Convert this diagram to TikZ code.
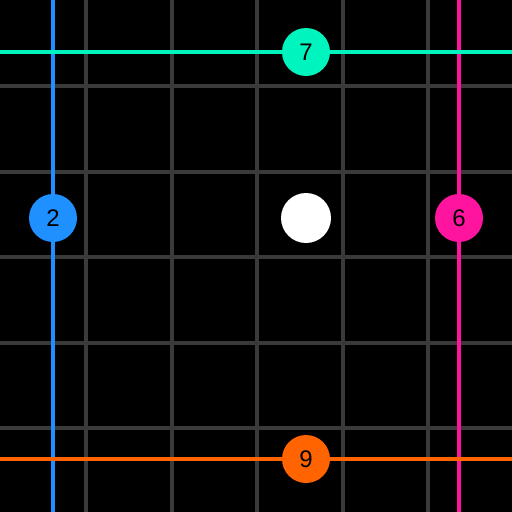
\documentclass[tikz,border=0pt]{standalone}
\usepackage{fontspec}
\setmainfont{Liberation Sans}
\definecolor{gridgray}{RGB}{58,58,58}
\definecolor{ccyan}{RGB}{0,245,190}
\definecolor{cblue}{RGB}{30,144,255}
\definecolor{cmag}{RGB}{255,20,160}
\definecolor{corange}{RGB}{255,100,0}
\tikzset{
  gridline/.style={draw=gridgray, line width=4pt},
  colline/.style={line width=3.5pt},
  dot/.style={circle, minimum size=48pt, inner sep=0pt, font=\fontsize{24}{24}\selectfont, text=black}
}
\begin{document}
\begin{tikzpicture}[x=1pt,y=-1pt]
\fill[black] (0,0) rectangle (512,512);
\useasboundingbox (0,0) rectangle (512,512);
\foreach \p in {86,171.5,257,342.5,428}{
  \draw[gridline] (\p,0) -- (\p,512);
  \draw[gridline] (0,\p) -- (512,\p);
}
\coordinate (cL) at (0,52);   \coordinate (cR) at (512,52);
\coordinate (bT) at (53,0);   \coordinate (bB) at (53,512);
\coordinate (mT) at (459,0);  \coordinate (mB) at (459,512);
\coordinate (oL) at (0,459);  \coordinate (oR) at (512,459);
\draw[colline, cblue] (bT) -- (bB);
\draw[colline, cmag] (mT) -- (mB);
\draw[colline, ccyan] (cL) -- (cR);
\draw[colline, corange] (oL) -- (oR);
\node[dot, fill=ccyan] (n7) at (306,52) {7};
\node[dot, fill=cblue] (n2) at (53,218) {2};
\node[dot, fill=white, minimum size=50pt] (w) at (306,218) {};
\node[dot, fill=cmag] (n6) at (459,218) {6};
\node[dot, fill=corange] (n9) at (306,459) {9};
\end{tikzpicture}
\end{document}
